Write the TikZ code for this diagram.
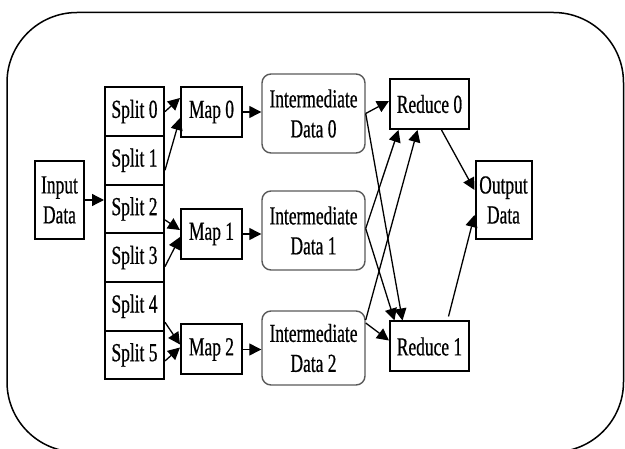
\documentclass[tikz,border=0pt]{standalone}
\usepackage{fontspec}
\setmainfont{Liberation Serif}[FakeStretch=0.67,FakeBold=0.6]
\usetikzlibrary{arrows.meta,positioning,calc}

\begin{document}
\begin{tikzpicture}[x=1pt, y=-1pt,
    box/.style={draw, line width=2pt, inner sep=0pt, align=center},
    store/.style={draw=black!65, line width=1.4pt, rounded corners=9pt, inner sep=0pt,
        align=center, minimum width=103pt, minimum height=79pt},
    flow/.style={line width=1.3pt, -{Triangle[length=12pt,width=12pt]}},
    font=\fontsize{26}{30}\selectfont]
    \useasboundingbox (0,0) rectangle (625,449);

    % frame
    \draw[line width=1.5pt, rounded corners=70pt] (7,12.5) rectangle (623.5,452);

    % input
    \node[box, minimum width=49pt, minimum height=78pt] (in) at (59.5,200) {Input\\Data};

    % splits
    \foreach \i in {0,...,5}
        \node[box, minimum width=59pt, minimum height=48.7pt] (s\i) at (134.5,111.6+48.67*\i) {Split \i};

    % maps
    \node[box, minimum width=61pt, minimum height=50pt] (m0) at (211.5,112) {Map 0};
    \node[box, minimum width=61pt, minimum height=50pt] (m1) at (211.5,234) {Map 1};
    \node[box, minimum width=61pt, minimum height=50pt] (m2) at (211.5,349.5) {Map 2};

    % intermediate data
    \node[store] (id0) at (313.5,113.5) {Intermediate\\Data 0};
    \node[store] (id1) at (313.5,230.5) {Intermediate\\Data 1};
    \node[store, minimum height=74pt] (id2) at (313.5,348) {Intermediate\\Data 2};

    % reduces
    \node[box, minimum width=79pt, minimum height=50pt] (r0) at (429.5,104) {Reduce 0};
    \node[box, minimum width=79pt, minimum height=50pt] (r1) at (429.5,346.5) {Reduce 1};

    % output
    \node[box, minimum width=56pt, minimum height=78pt] (out) at (503.5,200) {Output\\Data};

    % input to splits
    \draw[flow] (in.east) -- (in.east -| s2.west);

    % splits to maps
    \draw[flow] (s0.east) -- ($(m0.west)+(0,-14)$);
    \draw[flow] ($(s1.east)+(0,10)$) -- ($(m0.west)+(0,6)$);
    \draw[flow] ($(s2.east)+(0,11)$) -- ($(m1.west)+(0,-4)$);
    \draw[flow] ($(s3.east)+(0,9)$) -- ($(m1.west)+(0,3)$);
    \draw[flow] ($(s4.east)+(0,16)$) -- ($(m2.west)+(0,-5)$);
    \draw[flow] ($(s5.east)+(0,6)$) -- ($(m2.west)+(0,-2)$);

    % maps to intermediate data
    \draw[flow] (m0.east) -- (m0.east -| id0.west);
    \draw[flow] (m1.east) -- (m1.east -| id1.west);
    \draw[flow] (m2.east) -- (m2.east -| id2.west);

    % shuffle
    \draw[flow] (id0.east) -- ($(r0.west)+(0,-3)$);
    \draw[flow] (id0.east) -- ($(r1.north)+(-27,0)$);
    \draw[flow] ($(id1.east)+(0,-2)$) -- ($(r0.south)+(-31,0)$);
    \draw[flow] ($(id1.east)+(0,-2)$) -- ($(r1.north)+(-35,0)$);
    \draw[flow] ($(id2.east)+(0,-28)$) -- ($(r0.south)+(-12,0)$);
    \draw[flow] ($(id2.east)+(0,-25)$) -- ($(r1.west)+(0,-6)$);

    % reduces to output
    \draw[flow] ($(r0.south)+(12,0)$) -- ($(out.west)+(0,-10)$);
    \draw[flow] ($(r1.north)+(19,-4)$) -- ($(out.west)+(0,15)$);
\end{tikzpicture}
\end{document}
